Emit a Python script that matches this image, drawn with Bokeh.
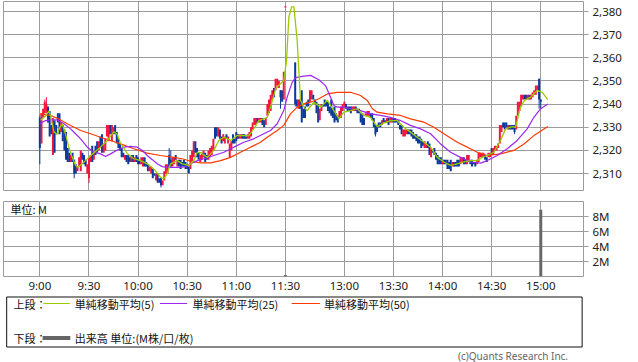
from bokeh.plotting import figure
from bokeh.layouts import column
from bokeh.models import Range1d, FixedTicker, NumeralTickFormatter, ColumnDataSource
from bokeh.embed import file_html
from bokeh.resources import INLINE
from bokeh.core.properties import value

# ---------------- data ----------------
# bar slots: morning 9:00-11:30 -> 0..150 ; afternoon 12:30-15:00 -> 156..306
PM_START = 156

am_open = [2334,2323,2334,2336,2337,2339,2337,2331,2318,2333,
           2331,2336,2336,2328,2331,2329,2328,2321,2319,2315,
           2319,2316,2314,2311,2313,2311,2319,2318,2316,2310,
           2308,2315,2322,2316,2322,2324,2320,2326,2327,2319,
           2320,2326,2324,2331,2324,2327,2331,2328,2325,2323,
           2321,2319,2316,2318,2318,2317,2315,2318,2315,2318,
           2317,2316,2314,2313,2317,2315,2314,2311,2310,2312,
           2310,2307,2310,2308,2308,2305,2307,2310,2310,2318,
           2316,2313,2314,2318,2313,2316,2316,2315,2316,2315,
           2314,2313,2312,2315,2317,2324,2321,2319,2315,2316,
           2317,2319,2318,2316,2317,2318,2320,2330,2330,2326,
           2329,2326,2324,2323,2327,2323,2317,2320,2327,2325,
           2328,2327,2325,2325,2327,2327,2326,2325,2325,2326,
           2329,2331,2331,2334,2332,2332,2334,2333,2331,2335,
           2336,2337,2342,2347,2346,2348,2347,2346,2346,2342,
           2382]
am_close = [2321,2336,2338,2341,2340,2332,2326,2327,2334,2319,
            2327,2332,2327,2332,2324,2320,2316,2315,2315,2318,
            2315,2310,2310,2313,2317,2320,2316,2314,2313,2314,
            2317,2318,2315,2319,2318,2319,2324,2321,2319,2323,
            2325,2331,2331,2327,2331,2330,2327,2323,2321,2320,
            2317,2317,2318,2315,2314,2315,2318,2315,2317,2315,
            2314,2314,2317,2317,2313,2313,2311,2313,2313,2308,
            2309,2310,2306,2306,2305,2307,2311,2314,2314,2313,
            2313,2317,2317,2316,2316,2313,2312,2313,2313,2312,
            2312,2310,2318,2320,2324,2319,2317,2316,2318,2319,
            2320,2315,2316,2320,2321,2322,2325,2325,2326,2330,
            2325,2323,2327,2326,2325,2326,2323,2324,2323,2323,
            2324,2325,2327,2327,2325,2325,2325,2327,2328,2330,
            2332,2334,2334,2332,2334,2334,2331,2330,2334,2340,
            2342,2344,2346,2343,2351,2351,2350,2343,2341,2354,
            2382]
pm_open = [2358,2342,2338,2342,2346,2338,2339,2341,2342,2341,
           2342,2344,2342,2341,2340,2333,2337,2340,2342,2341,
           2341,2339,2342,2338,2339,2336,2335,2334,2334,2337,
           2339,2340,2339,2339,2339,2337,2337,2339,2338,2338,
           2336,2336,2334,2335,2335,2335,2336,2336,2334,2331,
           2331,2332,2332,2331,2334,2333,2332,2334,2332,2332,
           2334,2334,2333,2333,2331,2331,2326,2326,2327,2329,
           2329,2329,2328,2327,2327,2326,2326,2325,2324,2321,
           2321,2324,2323,2317,2320,2321,2319,2318,2317,2317,
           2314,2316,2316,2316,2315,2316,2313,2315,2315,2316,
           2316,2314,2315,2317,2316,2314,2315,2316,2316,2315,
           2315,2314,2315,2317,2317,2317,2318,2317,2317,2317,
           2321,2318,2320,2320,2321,2323,2328,2332,2332,2332,
           2329,2331,2331,2331,2331,2329,2335,2337,2339,2342,
           2344,2344,2342,2344,2342,2343,2344,2344,2346,2351,
           2342]
pm_close = [2340,2339,2342,2338,2332,2334,2334,2339,2339,2346,
            2346,2342,2340,2336,2332,2338,2340,2339,2339,2339,
            2337,2336,2335,2334,2332,2333,2332,2337,2339,2340,
            2341,2338,2337,2337,2336,2339,2339,2337,2336,2336,
            2332,2331,2331,2336,2337,2337,2334,2333,2330,2327,
            2328,2330,2330,2333,2332,2332,2334,2331,2334,2334,
            2332,2332,2332,2331,2329,2327,2329,2329,2329,2327,
            2327,2326,2325,2325,2324,2323,2323,2321,2322,2324,
            2323,2321,2318,2321,2319,2318,2316,2314,2314,2314,
            2316,2314,2314,2312,2312,2311,2315,2313,2313,2313,
            2313,2317,2317,2314,2314,2318,2318,2314,2313,2314,
            2313,2316,2319,2319,2319,2319,2316,2315,2319,2319,
            2318,2321,2322,2322,2323,2331,2331,2330,2329,2330,
            2331,2329,2329,2329,2328,2335,2341,2341,2344,2344,
            2342,2342,2344,2342,2344,2345,2346,2348,2348,2342,
            2341]

# visible shadows (wicks)
wick_slot = [0, 3, 4, 21, 30, 74, 79, 80, 147, 156, 205, 290, 305, 306]
wick_high = [2335, 2342, 2343, 2316, 2317, 2308, 2321, 2320, 2346, 2358, 2331, 2331, 2351, 2342]
wick_low  = [2314, 2336, 2336, 2308, 2306, 2304, 2313, 2313, 2338, 2339, 2326, 2327, 2338, 2338]

# simple moving averages (bar slot, price)
ma5_x = [0.4,3.5,5.5,6.5,8.6,10.6,12.2,13.7,15.7,17.7,19.8,21.8,23.2,25.9,27.9,29.9,33,37.1,41.2,45.2,
         47.3,49.3,53.4,57.4,61.5,65.6,69.6,73.7,75.7,77.8,79.8,83.9,87,91,94.1,96.2,98.2,102.3,106.3,109.3,
         112.4,116.5,120.6,124.6,127.7,130.7,133.8,136.8,138.9,140.9,144,147,149,150.7,152.1,153.8,155.2,157.2,159.2,161.3,
         163.3,167.4,171.5,175.6,179.6,182.7,185.7,189.8,193.9,197.9,202,206.1,210.1,214.2,218.3,222.4,226.4,230.5,234.6,238.7,
         242.8,246.8,250.9,255,259,263.1,267.2,270.2,273.3,277.3,281.4,284.5,288.6,290.6,293.6,296.1,299.8,303.8,306.9,310.3]
ma5_y = [2333,2335,2337,2335,2328,2327,2330,2331.5,2327,2321.4,2317,2313.5,2312.7,2314.2,2315.6,2317,2319,2321.4,2324.3,2328,
         2327,2323,2318.7,2316.4,2315.6,2314.2,2312,2308.4,2307.7,2310,2314.2,2315.6,2314.2,2313.5,2315.6,2319.2,2319,2317,2320,2324.3,
         2325.7,2324.3,2326.4,2326.4,2326.4,2329.3,2332.9,2333.6,2334.3,2338.7,2346.6,2348.8,2350.2,2358.8,2377.5,2382,2382,2367.5,2341.6,2338.7,
         2337.2,2340.8,2338.7,2341.6,2337.2,2333.6,2336.5,2337.2,2338,2335.1,2334.3,2330.3,2331.8,2332.9,2332.9,2330,2327.9,2325.7,2323.5,2321.4,
         2317,2315,2313.5,2314.2,2315,2315.6,2315.6,2317,2317.8,2319.2,2324.3,2329.3,2330.3,2330,2338.7,2341.6,2343,2345.9,2345.1,2341.9]

ma25_x = [0,3.5,6.5,10.6,14.7,18.8,21.8,24.9,29,33,37.1,40.1,43.2,47.3,51.3,55.4,59.5,62.6,65.6,68.7,
          71.7,74.8,77.8,86,89,92.1,96.2,100.2,106.3,112.4,118.5,124.6,130.7,136.8,140.9,145,149,151.1,154.2,156.2,
          160.3,165.4,170.4,174.5,177.6,179.6,181.7,185.7,189.8,195.9,202,208.1,214.2,220.3,226.4,232.6,238.7,244.8,250.9,257,
          263.1,269.2,273.3,279.4,285.5,291.6,297.7,301.8,305.9,310.3]
ma25_y = [2331.5,2332.9,2333.2,2333.2,2331.5,2329.3,2327.2,2325,2321.4,2319.2,2318.5,2317.4,2318.5,2320.2,2321.4,2321.7,2321.4,2320,2317.8,2316,
          2314.2,2313,2312.7,2312.7,2313,2314.2,2315.6,2316.4,2317.8,2319.2,2321.4,2323.5,2325,2327.2,2328.6,2331.5,2337.2,2343,2349.5,2351.4,
          2352,2352.4,2350.5,2348,2343,2339.4,2338.7,2338.7,2338,2337.2,2335.8,2335.1,2334.3,2332.9,2330.8,2329.3,2327.2,2322.8,2319.2,2317,
          2315,2314.5,2315.6,2317.8,2320.7,2324.3,2329.3,2334.3,2338,2340]

ma50_x = [0,6.5,11.6,16.7,24.9,31,37.1,43.2,49.3,57.4,65.6,73.7,81.9,87,92.1,98.2,104.3,110.4,116.5,122.6,
          128.7,134.8,138.9,145,149,153.1,157.2,161.3,166.4,170.4,175.6,181.7,189.8,195.9,200,203.1,206.1,212.2,220.3,226.4,
          234.6,240.7,246.8,255,261.1,267.2,273.3,281.4,289.6,295.7,301.8,310.3]
ma50_y = [2335.8,2335.1,2333.6,2331.5,2328.6,2327.2,2325.7,2324.3,2322.8,2320.7,2318.8,2317.8,2317,2316.4,2315.3,2314.6,2314.6,2315.6,2317,2319.2,
          2321.4,2323.5,2325.7,2328.6,2330.8,2335.8,2338.7,2340.1,2341.1,2342.3,2344.4,2345.1,2345.1,2343.7,2341.6,2338,2336.5,2335.8,2335.1,2333.6,
          2332.2,2330,2327.2,2323.5,2321.4,2319.2,2317.8,2318.5,2320,2322.8,2326.4,2330.3]

# volume (million shares)
vol_slot = [150, 306]
vol_val = [0.2, 8.9]

tick_slots = [0, 30, 60, 90, 120, 150, 186, 216, 246, 276, 306]
tick_labels = ["9:00", "9:30", "10:00", "10:30", "11:00", "11:30",
               "13:00", "13:30", "14:00", "14:30", "15:00"]
price_ticks = [2310, 2320, 2330, 2340, 2350, 2360, 2370, 2380]
vol_ticks = [2, 4, 6, 8]
vol_tick_labels = ["2M", "4M", "6M", "8M"]

# ---------------- styling ----------------
GRID = "#9c9c9c"
UP = "#f5143f"
DN = "#0c3a9c"
C5, C25, C50 = "#99cc00", "#9c27f0", "#ff3a00"
NUM_FONT = "Noto Sans"
JP_FONT = "Noto Sans CJK JP"
XR = (-22.2, 332.1)

slots = list(range(len(am_open))) + list(range(PM_START, PM_START + len(pm_open)))
opens = am_open + pm_open
closes = am_close + pm_close
n = min(len(slots), len(opens), len(closes))
slots, opens, closes = slots[:n], opens[:n], closes[:n]
colors = [UP if c >= o else DN for o, c in zip(opens, closes)]
candles = ColumnDataSource(dict(
    x=slots, top=[max(o, c) for o, c in zip(opens, closes)],
    bottom=[min(o, c) for o, c in zip(opens, closes)], color=colors))
color_at = dict(zip(slots, colors))

def style_common(p):
    p.outline_line_color = GRID
    p.outline_line_width = 1
    p.background_fill_color = "white"
    p.border_fill_color = "white"
    for g in p.xgrid:
        g.ticker = FixedTicker(ticks=tick_slots)
        g.grid_line_color = GRID
        g.grid_line_width = 1
    for g in p.ygrid:
        g.grid_line_color = GRID
        g.grid_line_width = 1

def style_yaxis(ax):
    ax.axis_line_color = None
    ax.major_tick_in = 0
    ax.major_tick_out = 5
    ax.major_tick_line_color = GRID
    ax.minor_tick_line_color = None
    ax.major_label_standoff = 4
    ax.major_label_text_font = NUM_FONT
    ax.major_label_text_font_size = "11.5px"
    ax.major_label_text_color = "#222222"

# ---------------- price panel ----------------
p1 = figure(width=638, height=196, x_range=Range1d(*XR), y_range=Range1d(2302.68, 2384.32),
            output_backend="svg", toolbar_location=None, x_axis_location=None,
            y_axis_location="right", min_border_left=3, min_border_right=55,
            min_border_top=1, min_border_bottom=6)
style_common(p1)
for g in p1.ygrid:
    g.ticker = FixedTicker(ticks=price_ticks)
p1.yaxis.ticker = FixedTicker(ticks=price_ticks)
p1.yaxis.formatter = NumeralTickFormatter(format="0,0")
style_yaxis(p1.yaxis[0])

p1.vbar(x="x", width=1.22, top="top", bottom="bottom", fill_color="color",
        line_color=None, source=candles)
doji = [(s, o) for s, o, c in zip(slots, opens, closes) if o == c]
p1.segment(x0=[s - 0.61 for s, _ in doji], x1=[s + 0.61 for s, _ in doji],
           y0=[o for _, o in doji], y1=[o for _, o in doji],
           line_color=[color_at[s] for s, _ in doji], line_width=1.2)
p1.segment(x0=wick_slot, x1=wick_slot, y0=wick_low, y1=wick_high,
           line_color=[color_at.get(s, DN) for s in wick_slot], line_width=1)
p1.line(ma50_x, ma50_y, line_color=C50, line_width=1.2)
p1.line(ma25_x, ma25_y, line_color=C25, line_width=1.2)
p1.line(ma5_x, ma5_y, line_color=C5, line_width=1.3)

# ---------------- volume panel ----------------
p2 = figure(width=638, height=99, x_range=p1.x_range, y_range=Range1d(0, 10),
            output_backend="svg", toolbar_location=None, y_axis_location="right",
            min_border_left=3, min_border_right=55, min_border_top=5, min_border_bottom=14)
style_common(p2)
for g in p2.ygrid:
    g.ticker = FixedTicker(ticks=vol_ticks)
p2.yaxis.ticker = FixedTicker(ticks=vol_ticks)
p2.yaxis.major_label_overrides = {t: l for t, l in zip(vol_ticks, vol_tick_labels)}
style_yaxis(p2.yaxis[0])
xa = p2.xaxis[0]
xa.ticker = FixedTicker(ticks=tick_slots)
xa.major_label_overrides = {t: l for t, l in zip(tick_slots, tick_labels)}
xa.axis_line_color = None
xa.major_tick_out = 0
xa.major_tick_in = 0
xa.minor_tick_line_color = None
xa.major_label_standoff = 1
xa.major_label_text_font = NUM_FONT
xa.major_label_text_font_size = "11.5px"
xa.major_label_text_color = "#222222"

p2.vbar(x=vol_slot, width=1.8, top=vol_val, bottom=0, fill_color="#666666", line_color=None)
# unit caption placed near the panel's upper-left corner
px_to_slot = lambda px: XR[0] + (px - 3) * (XR[1] - XR[0]) / 580.0
p2.text(x=[px_to_slot(10)], y=[9.0], text=["単位: M"], text_font=value(JP_FONT),
        text_font_size="11px", text_color="#111111", text_baseline="middle", text_align="left")

# ---------------- legend panel ----------------
p3 = figure(width=638, height=67, x_range=Range1d(0, 638), y_range=Range1d(67, 0),
            output_backend="svg", toolbar_location=None, x_axis_location=None,
            y_axis_location=None, min_border=0)
p3.outline_line_color = None
p3.xgrid.visible = False
p3.ygrid.visible = False
p3.quad(left=[3.5], right=[636.5], top=[1.5], bottom=[51.5], fill_color=None,
        line_color="#111111", line_width=1)
row1, row2 = 8, 42.5
p3.text(x=[11, 11], y=[row1, row2], text=["上段：", "下段："], text_font=value(JP_FONT),
        text_font_size="11px", text_color="#111111", text_baseline="middle")
p3.segment(x0=[44, 172, 317], x1=[73, 202, 348], y0=[row1] * 3, y1=[row1] * 3,
           line_color=[C5, C25, C50], line_width=1.2)
p3.text(x=[78.5, 208, 352.5], y=[row1] * 3,
        text=["単純移動平均(5)", "単純移動平均(25)", "単純移動平均(50)"],
        text_font=value(JP_FONT), text_font_size="11px", text_color="#111111",
        text_baseline="middle")
p3.segment(x0=[43], x1=[73.5], y0=[row2], y1=[row2], line_color="#666666", line_width=4)
p3.text(x=[78.5], y=[row2], text=["出来高 単位:(M株/口/枚)"], text_font=value(JP_FONT),
        text_font_size="11px", text_color="#111111", text_baseline="middle")
p3.text(x=[621], y=[60.5], text=["(c)Quants Research Inc."], text_font=value(NUM_FONT),
        text_font_size="10px", text_color="#666666", text_baseline="middle", text_align="right")

layout = column(p1, p2, p3, spacing=0)
open("out.html", "w").write(file_html(layout, INLINE))
